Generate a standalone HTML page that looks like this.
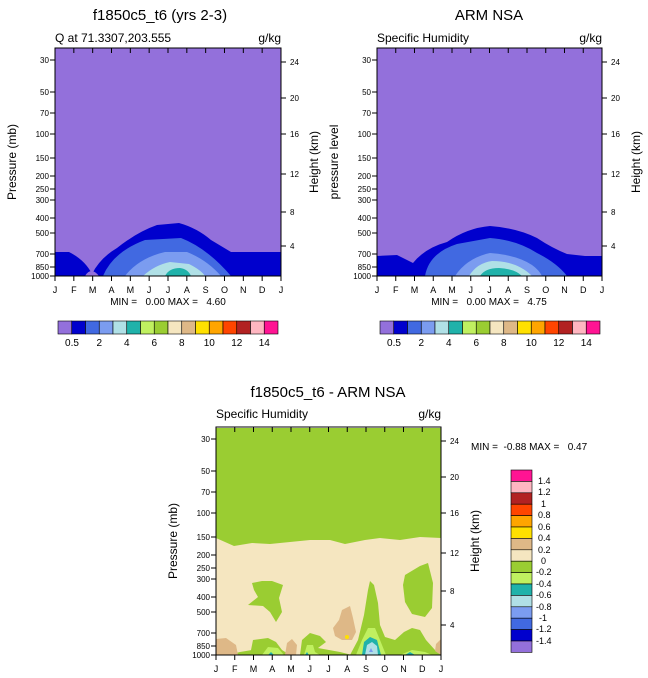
<!DOCTYPE html>
<html><head><meta charset="utf-8"><style>
html,body{margin:0;padding:0;background:#fff;}
svg{display:block;font-family:"Liberation Sans",sans-serif;}
text{white-space:pre;}
</style></head><body>
<svg width="648" height="678" viewBox="0 0 648 678" xmlns="http://www.w3.org/2000/svg" xml:space="preserve">
<defs>
<g id="yl" font-size="8" text-anchor="end" fill="#000">
<text x="-6" y="15">30</text><text x="-6" y="47">50</text><text x="-6" y="68">70</text><text x="-6" y="89">100</text><text x="-6" y="113">150</text><text x="-6" y="131">200</text><text x="-6" y="144">250</text><text x="-6" y="155">300</text><text x="-6" y="173">400</text><text x="-6" y="188">500</text><text x="-6" y="209">700</text><text x="-6" y="222">850</text><text x="-6" y="231">1000</text>
</g>
<g id="ylt" stroke="#000" stroke-width="1">
<path d="M-5,12H0M-5,44H0M-5,65H0M-5,86H0M-5,110H0M-5,128H0M-5,141H0M-5,152H0M-5,170H0M-5,185H0M-5,206H0M-5,219H0M-5,228H0"/>
</g>
<g id="frame">
<rect width="225" height="228" fill="none" stroke="#000" stroke-width="1"/>
<use href="#ylt"/><use href="#yl"/>
<g stroke="#000"><path d="M0,0v5M18.75,0v5M37.5,0v5M56.25,0v5M75,0v5M93.75,0v5M112.5,0v5M131.25,0v5M150,0v5M168.75,0v5M187.5,0v5M206.25,0v5M0,228v5M18.75,228v5M37.5,228v5M56.25,228v5M75,228v5M93.75,228v5M112.5,228v5M131.25,228v5M150,228v5M168.75,228v5M187.5,228v5M206.25,228v5M225,228v5"/>
<path d="M225,14h5M225,50h5M225,86h5M225,126h5M225,164h5M225,198h5"/></g>
<g font-size="8"><text x="234" y="17">24</text><text x="234" y="53">20</text><text x="234" y="89">16</text><text x="234" y="129">12</text><text x="234" y="167">8</text><text x="234" y="201">4</text></g>
<g font-size="9" text-anchor="middle"><text x="0" y="245">J</text><text x="18.75" y="245">F</text><text x="37.5" y="245">M</text><text x="56.25" y="245">A</text><text x="75" y="245">M</text><text x="93.75" y="245">J</text><text x="112.5" y="245">J</text><text x="131.25" y="245">A</text><text x="150" y="245">S</text><text x="168.75" y="245">O</text><text x="187.5" y="245">N</text><text x="206.25" y="245">D</text><text x="225" y="245">J</text></g>
</g>
<g id="hcb" stroke="#000" stroke-width="0.6">
<rect x="0" width="13.75" height="13" fill="#9370DB"/><rect x="13.75" width="13.75" height="13" fill="#0000CD"/><rect x="27.5" width="13.75" height="13" fill="#4169E1"/><rect x="41.25" width="13.75" height="13" fill="#7B9CF0"/><rect x="55" width="13.75" height="13" fill="#B0E0E6"/><rect x="68.75" width="13.75" height="13" fill="#20B2AA"/><rect x="82.5" width="13.75" height="13" fill="#C0F060"/><rect x="96.25" width="13.75" height="13" fill="#9ACD32"/><rect x="110" width="13.75" height="13" fill="#F5E6C0"/><rect x="123.75" width="13.75" height="13" fill="#DEB887"/><rect x="137.5" width="13.75" height="13" fill="#FFE000"/><rect x="151.25" width="13.75" height="13" fill="#FFA500"/><rect x="165" width="13.75" height="13" fill="#FF4500"/><rect x="178.75" width="13.75" height="13" fill="#B22222"/><rect x="192.5" width="13.75" height="13" fill="#FFB6C1"/><rect x="206.25" width="13.75" height="13" fill="#FF1493"/>
</g>
<g id="hcbl" font-size="10" text-anchor="middle" stroke="none">
<text x="14" y="25">0.5</text><text x="41.25" y="25">2</text><text x="68.75" y="25">4</text><text x="96.25" y="25">6</text><text x="123.75" y="25">8</text><text x="151.25" y="25">10</text><text x="178.75" y="25">12</text><text x="206.25" y="25">14</text>
</g>
</defs>

<!-- Panel 1 -->
<text x="160" y="20" font-size="15" text-anchor="middle">f1850c5_t6 (yrs 2-3)</text>
<text x="55" y="42" font-size="12">Q at 71.3307,203.555</text>
<text x="281" y="42" font-size="12" text-anchor="end">g/kg</text>
<g transform="translate(55,48)">
<rect width="226" height="228" fill="#9370DB"/>
<path d="M0,204 L14,204 Q30,212 37,226 Q45,210 62,200 Q82,184 102,177 L124,175 Q142,180 156,192 L176,204 L226,204 L226,228 L0,228 Z" fill="#0000CD"/>
<path d="M30,228 Q36,218 44,228 Z" fill="#9370DB"/>
<path d="M48,228 Q58,204 90,192 L126,190 Q152,200 176,228 Z" fill="#4169E1"/>
<path d="M70,228 Q84,210 110,204 L132,204 Q152,212 166,228 Z" fill="#7B9CF0"/>
<path d="M88,228 Q100,217 115,214 L134,216 Q146,222 150,228 Z" fill="#B0E0E6"/>
<path d="M110,228 Q114,220 125,220 Q133,221 136,228 Z" fill="#20B2AA"/>
<g transform="scale(1.0044,1)"><use href="#frame"/></g>
<text x="113" y="257" font-size="10" text-anchor="middle">MIN =   0.00 MAX =   4.60</text>
</g>
<text transform="translate(16,162) rotate(-90)" font-size="12" text-anchor="middle">Pressure (mb)</text>
<text transform="translate(318,162) rotate(-90)" font-size="12" text-anchor="middle">Height (km)</text>
<g transform="translate(58,321)"><use href="#hcb"/><use href="#hcbl"/></g>

<!-- Panel 2 -->
<text x="489" y="20" font-size="15" text-anchor="middle">ARM NSA</text>
<text x="377" y="42" font-size="12">Specific Humidity</text>
<text x="602" y="42" font-size="12" text-anchor="end">g/kg</text>
<g transform="translate(377,48)">
<rect width="225" height="228" fill="#9370DB"/>
<path d="M0,208 L20,207 L36,215 Q48,200 70,194 Q90,180 113,178 Q140,180 160,190 Q175,200 190,206 L208,208 L225,208 L225,228 L0,228 Z" fill="#0000CD"/>
<path d="M48,228 Q52,205 80,196 L113,190 Q140,192 160,205 Q180,215 190,228 Z" fill="#4169E1"/>
<path d="M78,228 Q90,210 113,205 Q140,207 155,217 Q162,222 165,228 Z" fill="#7B9CF0"/>
<path d="M92,228 Q100,215 115,213 Q140,213 155,228 Z" fill="#B0E0E6"/>
<path d="M103,228 Q108,220 122,220 Q138,221 145,228 Z" fill="#20B2AA"/>
<use href="#frame"/>
<text x="112" y="257" font-size="10" text-anchor="middle">MIN =   0.00 MAX =   4.75</text>
</g>
<text transform="translate(338,162) rotate(-90)" font-size="12" text-anchor="middle">pressure level</text>
<text transform="translate(640,162) rotate(-90)" font-size="12" text-anchor="middle">Height (km)</text>
<g transform="translate(380,321)"><use href="#hcb"/><use href="#hcbl"/></g>

<!-- Panel 3 -->
<text x="328" y="397" font-size="15" text-anchor="middle">f1850c5_t6 - ARM NSA</text>
<text x="216" y="418" font-size="12">Specific Humidity</text>
<text x="441" y="418" font-size="12" text-anchor="end">g/kg</text>
<rect x="216" y="428" width="225" height="227" fill="#9ACD32"/>
<path d="M216,538 L234,546 L252,543 L270,544 L290,542 L310,540 L330,540 L345,544 L365,540 L380,538 L400,540 L420,537 L441,538 L441,655 L216,655 Z" fill="#F5E6C0"/>
<g fill="#9ACD32">
<path d="M252,583 L262,581 L272,581 L283,585 L279,598 L282,612 L276,622 L270,612 L263,606 L248,605 L258,597 L254,590 Z"/>
<path d="M405,575 L420,566 L428,563 L433,583 L432,608 L425,617 L412,614 L405,602 L403,585 Z"/>
<path d="M350,655 L358,640 L364,615 L368,590 L370,581 L374,585 L378,603 L380,625 L385,637 L395,640 L404,632 L412,628 L420,630 L426,640 L435,650 L441,653 L441,655 Z"/>
<path d="M250,655 L253,640 L268,638 L276,642 L282,650 L290,655 Z"/>
<path d="M300,655 L302,640 L310,633 L320,636 L326,642 L318,648 L340,652 L352,655 Z"/>
<path d="M228,655 L240,652 L252,650 L256,655Z"/>
</g>
<g fill="#DEB887">
<path d="M342,610 L350,606 L353,618 L356,632 L352,640 L342,640 L335,636 L333,628 L339,620 Z"/>
<path d="M216,639 L226,638 L236,645 L238,655 L216,655 Z"/>
<path d="M285,655 L287,643 L292,639 L297,645 L296,655 Z"/>
<path d="M441,639 L436,644 L435,651 L441,655 Z"/>
</g>
<circle cx="347" cy="637" r="2" fill="#FFE000"/>
<g fill="#C0F060">
<path d="M356,655 L362,640 L368,628 L375,628 L380,640 L386,655 Z"/>
<path d="M262,655 L268,647 L278,648 L284,655 Z"/>
<path d="M304,655 L307,645 L313,645 L315,652 L320,655 Z"/>
<path d="M400,655 L412,650 L425,652 L432,655 Z"/>
</g>
<path d="M362,655 L364,642 L370,637 L377,640 L381,655 Z" fill="#20B2AA"/>
<path d="M365,655 L367,645 L372,642 L377,646 L378,655 Z" fill="#B0E0E6"/>
<path d="M369,652 L371,648 L373,652 Z" fill="#7B9CF0"/>
<path d="M268,655 L271,652 L274,655Z M305,655 L307,652 L309,655Z M405,655 L410,652 L415,655Z" fill="#20B2AA"/>
<g transform="translate(216,427)"><use href="#frame"/></g>
<text transform="translate(177,541) rotate(-90)" font-size="12" text-anchor="middle">Pressure (mb)</text>
<text transform="translate(479,541) rotate(-90)" font-size="12" text-anchor="middle">Height (km)</text>
<text x="471" y="450" font-size="10">MIN =  -0.88 MAX =   0.47</text>

<!-- vertical colorbar -->
<g stroke="#000" stroke-width="0.6">
<rect x="511" y="470" width="21" height="11.4" fill="#FF1493"/>
<rect x="511" y="481.4" width="21" height="11.4" fill="#FFB6C1"/>
<rect x="511" y="492.8" width="21" height="11.4" fill="#B22222"/>
<rect x="511" y="504.2" width="21" height="11.4" fill="#FF4500"/>
<rect x="511" y="515.6" width="21" height="11.4" fill="#FFA500"/>
<rect x="511" y="527" width="21" height="11.4" fill="#FFE000"/>
<rect x="511" y="538.4" width="21" height="11.4" fill="#DEB887"/>
<rect x="511" y="549.8" width="21" height="11.4" fill="#F5E6C0"/>
<rect x="511" y="561.2" width="21" height="11.4" fill="#9ACD32"/>
<rect x="511" y="572.6" width="21" height="11.4" fill="#C0F060"/>
<rect x="511" y="584" width="21" height="11.4" fill="#20B2AA"/>
<rect x="511" y="595.4" width="21" height="11.4" fill="#B0E0E6"/>
<rect x="511" y="606.8" width="21" height="11.4" fill="#7B9CF0"/>
<rect x="511" y="618.2" width="21" height="11.4" fill="#4169E1"/>
<rect x="511" y="629.6" width="21" height="11.4" fill="#0000CD"/>
<rect x="511" y="641" width="21" height="11.4" fill="#9370DB"/>
</g>
<g font-size="9">
<text x="538" y="484">1.4</text><text x="538" y="495">1.2</text><text x="541" y="507">1</text><text x="538" y="518">0.8</text><text x="538" y="530">0.6</text><text x="538" y="541">0.4</text><text x="538" y="553">0.2</text><text x="541" y="564">0</text><text x="536" y="575">-0.2</text><text x="536" y="587">-0.4</text><text x="536" y="598">-0.6</text><text x="536" y="610">-0.8</text><text x="539" y="621">-1</text><text x="536" y="632">-1.2</text><text x="536" y="644">-1.4</text>
</g>
</svg>
</body></html>
